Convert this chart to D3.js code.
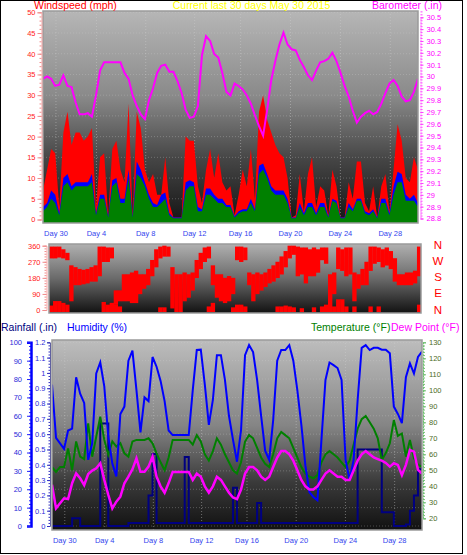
<!DOCTYPE html>
<html>
<head>
<meta charset="utf-8">
<script src="https://cdn.jsdelivr.net/npm/d3@7"></script>
<style>
body { margin: 0; background: #fff; }
svg { display: block; font-family: "Liberation Sans", Arial, sans-serif; }
</style>
</head>
<body>
<svg id="chart" width="467" height="555"></svg>
<script>
// samples every 8 hours (1/3 day) over the last 30 days
const STEP = 1 / 3;
const SPAN = 92 / 3;

const dayTicks = [1.06, 4.37, 8.4, 12.4, 16.16, 20.24, 24.32, 28.4];
const dayLabels = ["Day 30", "Day 4", "Day 8", "Day 12", "Day 16", "Day 20", "Day 24", "Day 28"];

// wind (mph)
const windGust = [7, 12, 17, 16, 3, 21, 26, 18, 21, 21, 19, 20, 22, 3, 15, 16, 1, 17, 19, 12,
  9, 28, 1, 26, 22, 12, 9, 11, 6, 6, 15, 4, 0.5, 0.5, 0.5, 20, 19, 19, 8, 4,
  12, 17, 10, 16, 9, 7, 8, 1, 6, 12, 8, 17, 5, 26, 30, 24, 21, 18, 16, 15,
  10, 0.5, 1, 11, 2, 11, 15, 3, 8, 7, 1, 12, 8, 0.5, 0.5, 9, 5, 14, 14, 4,
  2, 8, 0.5, 8, 11, 2, 12, 23, 19, 10, 9, 15, 12];
const windAvg = [3, 4, 7, 6, 1.5, 10, 11, 8, 9, 9, 9, 9, 11, 1.5, 6, 6, 0.8, 9.5, 10, 5,
  5, 12, 0.8, 14, 12, 9, 6, 4, 3.5, 6, 6.5, 1.5, 0.5, 0.5, 0.5, 9, 9.5, 9, 3, 2.5,
  7.5, 7.5, 6, 5, 5, 3.5, 3.5, 0.8, 2, 2.5, 2.5, 5, 2.5, 13, 13.5, 11, 8, 7, 7, 7,
  5, 0.5, 0.5, 4, 1.5, 4, 4, 1.5, 4, 4, 0.8, 5, 4.5, 0.5, 0.5, 4, 2.5, 5, 5, 2,
  1.5, 2.5, 0.5, 5, 5, 1.5, 8, 11.5, 11, 6, 5, 6, 4];
const windSpeed = [2, 3, 5, 4, 1, 8, 9, 7, 8, 8, 8, 8, 9, 1, 5, 5, 0.5, 8, 9, 4,
  4, 10, 0.5, 11, 10, 8, 5, 3, 3, 4, 5, 1, 0.3, 0.3, 0.3, 7, 8, 8, 2, 2,
  6, 6, 5, 4, 4, 3, 3, 0.5, 1.5, 2, 2, 4, 2, 11, 12, 10, 7, 6, 6, 6,
  4, 0.3, 0.3, 3, 1, 3, 3, 1, 3, 3, 0.5, 4.5, 4, 0.3, 0.3, 3, 2, 4.5, 4.5, 1.5,
  1, 2, 0.3, 4, 4, 1, 6, 9, 9, 4.5, 4.5, 4.5, 3];

// barometer (in)
const baro = [29.98, 30.0, 29.98, 29.92, 29.93, 30.01, 29.92, 29.91, 29.78, 29.68, 29.68, 29.69, 29.66, 29.84, 30.05, 30.12, 30.12, 30.12, 30.12, 30.12,
  30.03, 29.98, 29.84, 29.75, 29.68, 29.64, 29.8, 29.9, 30.03, 30.09, 30.1, 30.04, 30.04, 29.96, 29.86, 29.72, 29.65, 29.66, 29.75, 30.18,
  30.34, 30.3, 30.19, 30.16, 30.03, 29.87, 29.84, 29.94, 29.92, 29.89, 29.84, 29.77, 29.67, 29.58, 29.5, 29.72, 29.97, 30.13, 30.27, 30.37,
  30.27, 30.23, 30.22, 30.14, 30.08, 30.01, 29.97, 30.05, 30.12, 30.13, 30.15, 30.2, 30.13, 30.03, 29.92, 29.83, 29.71, 29.61, 29.66, 29.69,
  29.71, 29.68, 29.7, 29.77, 29.86, 29.94, 29.97, 29.92, 29.83, 29.79, 29.8, 29.87, 29.98];

// wind direction (degrees): main band and a second band near north
const dirLo = [300, 300, 305, 300, 290, 60, 150, 150, 155, 160, 170, 170, 200, 280, 280, 300, 40, 60, 60, 60,
  50, 50, 100, 130, 150, 200, 250, 300, 310, 310, 20, 0, 0, 60, 80, 120, 190, 240, 280, 300,
  150, 80, 60, 50, 60, 100, 290, 280, 290, 150, 60, 100, 120, 140, 160, 170, 190, 210, 250, 300,
  320, 200, 210, 160, 200, 200, 220, 290, 270, 0, 100, 240, 230, 200, 210, 60, 130, 150, 150, 230,
  270, 280, 250, 260, 240, 170, 150, 150, 150, 150, 160, 200];
const dirHi = [355, 355, 355, 340, 320, 250, 240, 230, 225, 230, 240, 250, 355, 355, 350, 350, 110, 110, 200, 200,
  210, 220, 200, 200, 230, 280, 340, 355, 360, 355, 240, 200, 200, 210, 200, 210, 280, 320, 350, 355,
  250, 200, 200, 180, 190, 180, 355, 355, 350, 210, 200, 210, 200, 210, 230, 250, 270, 300, 330, 360,
  360, 355, 350, 350, 340, 350, 340, 350, 350, 200, 210, 350, 340, 350, 350, 210, 200, 230, 270, 355,
  355, 350, 340, 350, 330, 290, 200, 200, 210, 210, 220, 355];
const dirHi2 = [25, 50, 50, 40, 30, null, null, null, null, null, null, null, null, 45, 30, 40, 30, 20, null, null,
  null, null, null, null, null, null, null, 15, 15, null, null, null, null, null, null, null, null, null, null, 20,
  40, null, null, null, null, 15, 30, 30, 20, null, null, null, null, null, null, null, 20, 20, 25, 20,
  15, null, 10, null, null, 15, null, 20, 30, null, 20, 60, 60, 20, null, 20, null, null, null, 20,
  null, 20, null, null, null, null, null, null, null, null, null, 30];

// humidity (%), temperature and dew point (F), rainfall (in)
const humidity = [77, 48, 45, 42, 52, 53, 81, 72, 67, 36, 45, 83, 89, 76, 48.6, 34, 27, 61, 65, 90,
  95.5, 74, 51, 70, 68, 92, 86.7, 79, 68, 52, 49.5, 49.5, 49.5, 49.5, 49.5, 74, 95.8, 96, 77, 55,
  68.6, 93, 93, 79.5, 60, 47, 35, 52, 93, 98.5, 94.7, 79.5, 60, 41, 36, 57.7, 90, 95.8, 95.8, 98.5,
  90, 74, 55, 33, 18.5, 15.8, 14, 47, 79.5, 89, 87.6, 86, 79.5, 36, 25, 36, 68.6, 97, 98.5, 95.8,
  97, 97, 96, 96, 94, 65, 61, 56, 81, 88.5, 83, 92, 95];
const temperature = [52, 49, 52, 52, 63.7, 50, 68, 58.5, 57, 79.4, 58.5, 71, 83.5, 69, 59.6, 68, 64.8, 66.9, 60.6, 58.5,
  68, 69, 69, 69, 70, 66.9, 60.6, 55, 50, 58, 69, 69, 69, 69, 69, 66, 72, 68, 60, 56,
  62, 70, 66, 60, 55, 50, 48, 55, 68, 72, 70, 64, 58, 54, 52, 60, 70, 74, 72, 70,
  64, 58, 52, 48, 46, 45, 47, 55, 60, 62, 60, 58, 55, 52, 56, 66, 76, 82, 84, 80,
  76, 70, 56.4, 60.8, 66.9, 81.4, 71.5, 73, 58.5, 69, 57.5, 53.4, 52.3];
const dewPoint = [41, 26.2, 29.4, 32.5, 32, 41.9, 48.1, 45, 40.8, 47.7, 49.8, 51.3, 54.4, 44, 34.6, 26.2, 30.4, 33.5, 41.9, 46,
  50.6, 57.5, 49.1, 49.1, 52.3, 58.5, 46, 40, 36, 42, 49, 49, 49, 49, 49, 44, 48, 46, 40, 36,
  40, 46, 44, 40, 36, 33, 32, 38, 48, 52, 52, 50, 46, 44, 46, 52, 58, 62, 62, 60,
  56, 50, 44, 40, 38, 38, 40, 44, 48, 50, 48, 46, 46, 44, 44, 50, 56, 60, 62, 60,
  58, 57, 56, 54.6, 52.3, 54.4, 53.4, 47, 53.4, 62.7, 61.7, 50.3, 48];
const rainfall = [0, 0, 0, 0, 0, 0.05, 0.05, 0, 0, 0, 0, 0, 0.67, 0.67, 0, 0, 0, 0, 0, 0.02,
  0.02, 0.02, 0.02, 0.02, 0.2, 0.47, 0.02, 0.02, 0.02, 0.02, 0.02, 0.02, 0.02, 0.45, 0.02, 0.02, 0.02, 0.02, 0.02, 0.02,
  0.02, 0.02, 0.02, 0.02, 0.02, 0.25, 0.02, 0.02, 0.02, 0.02, 0.02, 0.15, 0.02, 0.02, 0.02, 0.02, 0.02, 0.02, 0.02, 0.02,
  0.02, 0.02, 0.02, 0.02, 0.02, 0.02, 0.02, 0.02, 0.02, 0.02, 0.02, 0.02, 0.02, 0.02, 0.02, 0.02, 0.5, 0.5, 0.5, 0.5,
  0.5, 0.5, 0.09, 0.09, 0.09, 0, 0, 0, 0.01, 0.1, 0.2, 0.37, 0.4];

const windTicks = d3.range(0, 51, 5);
const baroTicks = d3.range(28.8, 30.51, 0.1);
const dirTicks = [0, 90, 180, 270, 360];
const humTicks = d3.range(0, 101, 10);
const rainTicks = d3.range(0, 1.21, 0.1);
const tempTicks = d3.range(20, 131, 10);
const compass = ["N", "W", "S", "E", "N"];

const svg = d3.select("#chart");
const defs = svg.append("defs");

function gradient(id, stops) {
  const g = defs.append("linearGradient").attr("id", id)
    .attr("x1", 0).attr("y1", 0).attr("x2", 0).attr("y2", 1);
  stops.forEach(s => g.append("stop").attr("offset", s[0]).attr("stop-color", s[1]));
}
gradient("bgTop", [[0, "#b6b6b6"], [0.4, "#8a8a8a"], [0.7, "#454545"], [1, "#141414"]]);
gradient("bgMid", [[0, "#b0b0b0"], [0.5, "#6a6a6a"], [1, "#121212"]]);
gradient("bgBot", [[0, "#bdbdbd"], [0.45, "#858585"], [0.75, "#3a3a3a"], [1, "#111111"]]);

function panel(id, x0, x1, y0, y1, fill) {
  defs.append("clipPath").attr("id", id).append("rect")
    .attr("x", x0).attr("y", y0).attr("width", x1 - x0).attr("height", y1 - y0);
  svg.append("rect").attr("x", x0).attr("y", y0).attr("width", x1 - x0).attr("height", y1 - y0)
    .attr("fill", fill);
  return svg.append("g").attr("clip-path", `url(#${id})`);
}
function frame(x0, x1, y0, y1) {
  svg.append("rect").attr("x", x0).attr("y", y0).attr("width", x1 - x0).attr("height", y1 - y0)
    .attr("fill", "none").attr("stroke", "#9a9a9a").attr("stroke-width", 1.5);
}

// axis with major labelled ticks plus short minor ticks
function axis(maker, scale, pos, majors, minors, o) {
  const g = svg.append("g").attr("transform", `translate(${pos},0)`);
  g.append("g").call(maker(scale).tickValues(minors).tickSize(o.minor).tickFormat(""))
    .call(a => a.select(".domain").remove())
    .selectAll("line").attr("stroke", o.tick);
  const m = g.append("g").call(maker(scale).tickValues(majors).tickSize(o.major)
    .tickPadding(o.pad).tickFormat(o.fmt));
  m.select(".domain").attr("stroke", o.line).attr("stroke-width", o.lw || 1)
    .attr("stroke-dasharray", o.dash || null);
  m.selectAll("line").attr("stroke", o.tick);
  m.selectAll("text").attr("fill", o.text).style("font-size", "7.5px")
    .style("font-family", "Liberation Sans, Arial, sans-serif");
  return g;
}
const num = d => String(+d.toFixed(1));

// ---------- top panel: wind speed and barometer ----------
const xTop = d3.scaleLinear().domain([0, SPAN]).range([43, 418]);
const yWind = d3.scaleLinear().domain([0, 50]).range([219.5, 12.3]);
const yBaro = d3.scaleLinear().domain([28.8, 30.5]).range([218.5, 17.3]);

const gTop = panel("clipTop", 43, 418, 11, 223, "url(#bgTop)");
gTop.selectAll(".vg").data(dayTicks).join("line")
  .attr("x1", d => xTop(d)).attr("x2", d => xTop(d)).attr("y1", 11).attr("y2", 223)
  .attr("stroke", "#cfcfcf").attr("stroke-opacity", 0.45).attr("stroke-dasharray", "1,2");
gTop.selectAll(".hg").data(windTicks).join("line")
  .attr("x1", 43).attr("x2", 418).attr("y1", d => yWind(d)).attr("y2", d => yWind(d))
  .attr("stroke", "#cfcfcf").attr("stroke-opacity", 0.3).attr("stroke-dasharray", "1,2");

const windArea = d3.area()
  .x((d, i) => xTop(i * STEP)).y0(223).y1(d => yWind(d));
[[windGust, "#ff0000"], [windAvg, "#0000ff"], [windSpeed, "#008000"]].forEach(([s, c]) => {
  gTop.append("path").datum(s).attr("d", windArea).attr("fill", c);
});
gTop.append("path").datum(baro)
  .attr("d", d3.line().x((d, i) => xTop(i * STEP)).y(d => yBaro(d)))
  .attr("fill", "none").attr("stroke", "#ff00ff").attr("stroke-width", 2);
frame(43, 418, 11, 223);

axis(d3.axisLeft, yWind, 41.5, windTicks, d3.range(0, 51, 1),
  { major: 4, minor: 2, pad: 2, fmt: d3.format("d"), tick: "#f08a8a", line: "#f4a3a3", text: "#ff2020" });
axis(d3.axisRight, yBaro, 420.5, baroTicks, d3.range(28.8, 30.56, 0.025),
  { major: 3, minor: 2, pad: 3, fmt: num, tick: "#ff40ff", line: "#ff70ff", text: "#ff00ff", dash: "2,1" });

svg.selectAll(".dayTop").data(dayTicks).join("text")
  .attr("x", d => xTop(d)).attr("y", 236).attr("text-anchor", "middle")
  .attr("fill", "#3344ee").style("font-size", "7.5px")
  .text((d, i) => dayLabels[i]);

// ---------- middle panel: wind direction ----------
const xMid = d3.scaleLinear().domain([0, SPAN]).range([49, 421]);
const yDir = d3.scaleLinear().domain([0, 360]).range([310, 245.7]);
const gMid = panel("clipMid", 49, 421, 244, 313, "url(#bgMid)");
const bw = xMid(STEP) - xMid(0) + 0.3;
gMid.selectAll(".d1").data(dirLo).join("rect")
  .attr("x", (d, i) => xMid(i * STEP)).attr("width", bw)
  .attr("y", (d, i) => yDir(dirHi[i])).attr("height", (d, i) => yDir(d) - yDir(dirHi[i]) + 2)
  .attr("fill", "#ff0000");
gMid.selectAll(".d2").data(dirHi2.map((h, i) => ({ h, i })).filter(d => d.h !== null)).join("rect")
  .attr("x", d => xMid(d.i * STEP)).attr("width", bw)
  .attr("y", d => yDir(d.h)).attr("height", d => yDir(0) - yDir(d.h) + 2)
  .attr("fill", "#ff0000");
frame(49, 421, 244, 313);
axis(d3.axisLeft, yDir, 46.5, dirTicks, d3.range(0, 361, 15),
  { major: 4, minor: 2, pad: 2, fmt: d3.format("d"), tick: "#f08a8a", line: "#f4a3a3", text: "#ff2020" });
svg.selectAll(".cmp").data(compass).join("text")
  .attr("x", 438).attr("y", (d, i) => yDir(360 - i * 90) + 3.5).attr("text-anchor", "middle")
  .attr("fill", "#ff0000").style("font-size", "11.5px").text(d => d);

// ---------- bottom panel: rain, humidity, temperature, dew point ----------
const xBot = d3.scaleLinear().domain([0, SPAN]).range([52, 422]);
const yHum = d3.scaleLinear().domain([0, 100]).range([526, 342.3]);
const yRain = d3.scaleLinear().domain([0, 1.2]).range([526, 342.3]);
const yTemp = d3.scaleLinear().domain([20, 130]).range([518.3, 342.3]);

const gBot = panel("clipBot", 52, 422, 340, 530, "url(#bgBot)");
gBot.selectAll(".vg").data(dayTicks).join("line")
  .attr("x1", d => xBot(d)).attr("x2", d => xBot(d)).attr("y1", 340).attr("y2", 530)
  .attr("stroke", "#cfcfcf").attr("stroke-opacity", 0.45).attr("stroke-dasharray", "1,2");
gBot.selectAll(".hg").data(humTicks).join("line")
  .attr("x1", 52).attr("x2", 422).attr("y1", d => yHum(d)).attr("y2", d => yHum(d))
  .attr("stroke", "#cfcfcf").attr("stroke-opacity", 0.3).attr("stroke-dasharray", "1,2");

const lineOf = (y, curve) => d3.line().curve(curve || d3.curveLinear)
  .x((d, i) => xBot(i * STEP)).y(d => y(d));
gBot.append("path").datum(rainfall).attr("d", lineOf(yRain, d3.curveStepAfter))
  .attr("fill", "none").attr("stroke", "#000080").attr("stroke-width", 2);
gBot.append("path").datum(temperature).attr("d", lineOf(yTemp))
  .attr("fill", "none").attr("stroke", "#008000").attr("stroke-width", 2);
gBot.append("path").datum(humidity).attr("d", lineOf(yHum))
  .attr("fill", "none").attr("stroke", "#0000ff").attr("stroke-width", 2);
gBot.append("path").datum(dewPoint).attr("d", lineOf(yTemp))
  .attr("fill", "none").attr("stroke", "#ff00ff").attr("stroke-width", 2.5);
frame(52, 422, 340, 530);

axis(d3.axisLeft, yHum, 31, humTicks, d3.range(0, 101, 2),
  { major: 4, minor: 2, pad: 5, fmt: d3.format("d"), tick: "#2020ff", line: "#0000ff", lw: 2.5, text: "#2a2ad8" });
axis(d3.axisLeft, yRain, 50, rainTicks, d3.range(0, 1.21, 0.02),
  { major: 3, minor: 1.5, pad: 1.5, fmt: num, tick: "#3030c0", line: "#6060a0", text: "#2a2ad8" });
axis(d3.axisRight, yTemp, 423, tempTicks, d3.range(20, 131, 2),
  { major: 3, minor: 2, pad: 3, fmt: d3.format("d"), tick: "#70c070", line: "#70c070", text: "#4d6b1f", dash: "2,1" });

svg.selectAll(".dayBot").data(dayTicks).join("text")
  .attr("x", d => xBot(d)).attr("y", 542.5).attr("text-anchor", "middle")
  .attr("fill", "#3344ee").style("font-size", "7.5px")
  .text((d, i) => dayLabels[i]);

// ---------- titles ----------
const titles = [
  ["Windspeed (mph)", 34, 9, "start", "#ff0000"],
  ["Current last 30 days May 30 2015", 251.5, 9, "middle", "#ffff00"],
  ["Barometer (.in)", 372, 9, "start", "#ff00ff"],
  ["Rainfall (.in)", 1, 331, "start", "#000080"],
  ["Humidity (%)", 67, 331, "start", "#0000ff"],
  ["Temperature (°F)", 311, 331, "start", "#008000"],
  ["Dew Point (°F)", 391, 331, "start", "#ff00ff"]
];
svg.selectAll(".title").data(titles).join("text")
  .attr("x", d => d[1]).attr("y", d => d[2]).attr("text-anchor", d => d[3])
  .attr("fill", d => d[4]).style("font-size", "10.5px").text(d => d[0]);

svg.append("rect").attr("x", 0.5).attr("y", 0.5).attr("width", 462).attr("height", 553)
  .attr("fill", "none").attr("stroke", "#000");
</script>
</body>
</html>
